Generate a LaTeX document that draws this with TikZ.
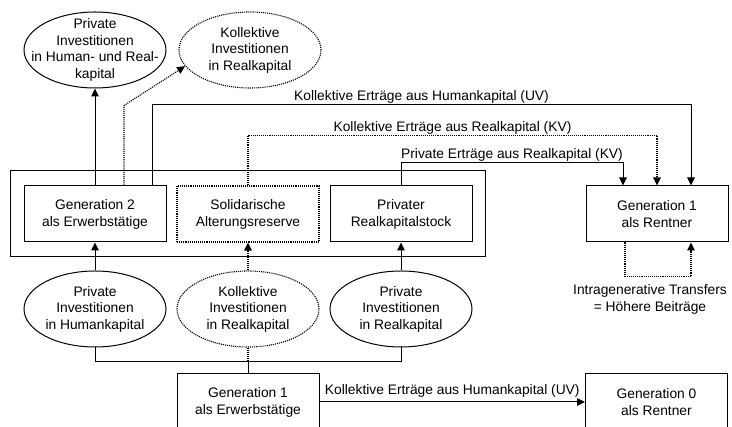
\documentclass[tikz,border=0pt]{standalone}
\usepackage{fontspec}
\setmainfont{Liberation Sans}
\usetikzlibrary{arrows.meta,shapes.geometric,fit}

\begin{document}
\begin{tikzpicture}[->,>={Triangle[length=8pt,width=7.5pt]},x=1pt,y=1pt,
    node distance=153pt,line width=1pt,font=\fontsize{13.8}{17}\selectfont]

        \tikzstyle{dots}=[dash pattern=on 1.1pt off 1pt,line width=1.1pt]
        \tikzstyle{box}=[rectangle,draw,solid,minimum width=142pt,minimum height=56pt,align=center,inner sep=0pt]
        \tikzstyle{dbox}=[box,dots]
        \tikzstyle{ell}=[ellipse,draw,solid,minimum width=142pt,minimum height=76pt,inner sep=0pt]
        \tikzstyle{dell}=[ell,dots]
        \tikzstyle{etext}=[align=center,font=\fontsize{13.8}{16.5}\selectfont]
        \tikzstyle{lbl}=[inner sep=0.5pt]

        \useasboundingbox (0,0) rectangle (732,427);

        \node[box]                       (g2)  at (95,213)     {Generation 2\\als Erwerbstätige};
        \node[dbox]                      (sar) [right of=g2]   {Solidarische\\Alterungsreserve};
        \node[box]                       (prk) [right of=sar]  {Privater\\Realkapitalstock};
        \node[box, node distance=256pt]  (g1r) [right of=prk]  {Generation 1\\als Rentner};
        \node[draw, fit=(g2)(prk), inner xsep=13pt, inner ysep=14.5pt] (grp) {};

        \node[ell, node distance=164pt, label={[etext]center:Private\\Investitionen\\in Human- und Real-\\kapital}] (ph) [above of=g2] {};
        \node[dell, node distance=155pt, label={[etext]center:Kollektive\\Investitionen\\in Realkapital}] (kr) [right of=ph] {};

        \node[ell, node distance=95pt, label={[etext]center:Private\\Investitionen\\in Humankapital}] (pih) [below of=g2] {};
        \node[dell, label={[etext]center:Kollektive\\Investitionen\\in Realkapital}] (kir) [right of=pih] {};
        \node[ell, label={[etext]center:Private\\Investitionen\\in Realkapital}] (pir) [right of=kir] {};

        \node[box, node distance=93pt]    (g1e) [below of=kir] {Generation 1\\als Erwerbstätige};
        \node[box, node distance=408.5pt] (g0r) [right of=g1e] {Generation 0\\als Rentner};
        \node[align=center, node distance=85.5pt, xshift=-7pt] (itr) [below of=g1r] {Intragenerative Transfers\\= Höhere Beiträge};

        \path
        (g2)  edge (ph)
        (pih) edge (g2)
        (kir) edge[dots] (sar)
        (pir) edge (prk)
        (g1e) edge node[lbl, above=4pt] {Kollektive Erträge aus Humankapital (UV)} (g0r)
    ;

        \draw[dots] ([xshift=29pt]g2.north) -- ++(0,80) -- (kr.194);
        \draw ([xshift=57pt]g2.north) -- ++(0,81) -| ([xshift=34pt]g1r.north)
            node[lbl, pos=0.25, above] {Kollektive Erträge aus Humankapital (UV)};
        \draw[dots] (sar.north) -- ++(0,50) -| (g1r.north)
            node[lbl, pos=0.25, above] {Kollektive Erträge aus Realkapital (KV)};
        \draw (prk.north) -- ++(0,23) -| ([xshift=-34pt]g1r.north)
            node[lbl, pos=0.25, above] {Private Erträge aus Realkapital (KV)};
        \draw[dots] ([xshift=-32pt]g1r.south) -- ++(0,-34) -| ([xshift=34pt]g1r.south);

        \draw[-] (pih.south) -- ++(0,-14.5) coordinate (jl) -| (pir.south);
        \draw[-, dots] (kir.south) -- (kir.south |- jl);
        \draw[-] (kir.south |- jl) -- (g1e.north);
    \end{tikzpicture}
\end{document}
